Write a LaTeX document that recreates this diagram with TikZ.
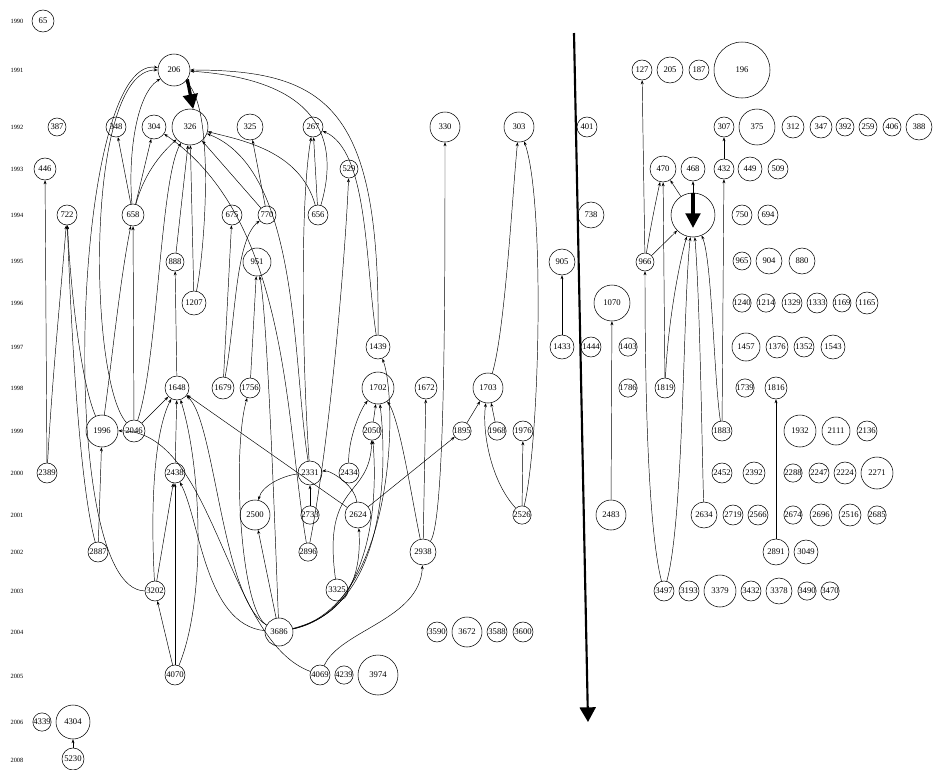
\documentclass[tikz,border=0pt]{standalone}
\usepackage{fontspec}
\setmainfont{Liberation Serif}
\usetikzlibrary{arrows.meta}

\begin{document}
\begin{tikzpicture}[x=0.75pt, y=-0.75pt,
    cit/.style={circle, draw, line width=0.4pt, inner sep=0pt, minimum size=1.5pt*#1, font=\fontsize{6.5}{7}\selectfont},
    yearlbl/.style={font=\fontsize{4.8}{5}\selectfont, inner sep=0pt},
    cite/.style={-{Stealth[length=3pt,width=2.2pt]}, line width=0.35pt},
    heavy/.style={-{Triangle[length=11pt,width=11pt]}, line width=2.4pt},
    timeline/.style={-{Triangle[length=11pt,width=12pt]}, line width=1.6pt}]
    \useasboundingbox (0,0) rectangle (933,769);

    % Years
    \foreach \yr/\yy in {1990/21, 1991/70, 1992/127, 1993/169, 1994/215, 1995/261, 1996/303,
        1997/347, 1998/388, 1999/431, 2000/473, 2001/515, 2002/552, 2003/591, 2004/632,
        2005/676, 2006/722, 2008/760}
        \node[yearlbl] (y\yr) at (17,\yy) {\yr};

    % Papers, row by row
    \node[cit=11] (n65) at (43,21) {65};

    \node[cit=16] (n206) at (174,70) {206};
    \node[cit=10] (n127) at (642,70) {127};
    \node[cit=13] (n205) at (670,70) {205};
    \node[cit=10] (n187) at (699,70) {187};
    \node[cit=28] (n196) at (742,70) {196};

    \node[cit=9] (n387) at (57,127) {387};
    \node[cit=10] (n348) at (116,127) {348};
    \node[cit=12] (n304) at (154,127) {304};
    \node[cit=18] (n326) at (190,127) {326};
    \node[cit=13] (n325) at (250,127) {325};
    \node[cit=10] (n267) at (313,127) {267};
    \node[cit=15] (n330) at (445,127) {330};
    \node[cit=15] (n303) at (519,127) {303};
    \node[cit=10] (n401) at (587,127) {401};
    \node[cit=10] (n307) at (724,127) {307};
    \node[cit=18] (n375) at (757,127) {375};
    \node[cit=11] (n312) at (793,127) {312};
    \node[cit=11] (n347) at (821,127) {347};
    \node[cit=9] (n392) at (845,127) {392};
    \node[cit=9] (n259) at (868,127) {259};
    \node[cit=9] (n406) at (892,127) {406};
    \node[cit=13] (n388) at (919,127) {388};

    \node[cit=11] (n446) at (45,169) {446};
    \node[cit=9] (n529) at (349,169) {529};
    \node[cit=13] (n470) at (663,169) {470};
    \node[cit=12] (n468) at (693,169) {468};
    \node[cit=10] (n432) at (724,169) {432};
    \node[cit=12] (n449) at (750,169) {449};
    \node[cit=10] (n509) at (778,169) {509};

    \node[cit=10] (n722) at (67,215) {722};
    \node[cit=11] (n658) at (133,215) {658};
    \node[cit=10] (n675) at (232,215) {675};
    \node[cit=9] (n770) at (267,215) {770};
    \node[cit=10] (n656) at (318,215) {656};
    \node[cit=13] (n738) at (591,215) {738};
    \node[cit=22] (hub) at (693,215) {};
    \node[cit=10] (n750) at (742,215) {750};
    \node[cit=10] (n694) at (768,215) {694};

    \node[cit=9] (n888) at (175,262) {888};
    \node[cit=14] (n951) at (257,262) {951};
    \node[cit=13] (n905) at (562,262) {905};
    \node[cit=9] (n966) at (645,262) {966};
    \node[cit=9] (n965) at (742,261) {965};
    \node[cit=13] (n904) at (769,261) {904};
    \node[cit=13] (n880) at (802,261) {880};

    \node[cit=12] (n1207) at (194,303) {1207};
    \node[cit=18] (n1070) at (612,303) {1070};
    \node[cit=9] (n1240) at (742,303) {1240};
    \node[cit=9] (n1214) at (766,303) {1214};
    \node[cit=10] (n1329) at (792,303) {1329};
    \node[cit=10] (n1333) at (817,303) {1333};
    \node[cit=9] (n1169) at (842,303) {1169};
    \node[cit=11] (n1165) at (867,303) {1165};

    \node[cit=12] (n1439) at (378,347) {1439};
    \node[cit=12] (n1433) at (562,347) {1433};
    \node[cit=10] (n1444) at (591,347) {1444};
    \node[cit=9] (n1403) at (628,347) {1403};
    \node[cit=14] (n1457) at (746,347) {1457};
    \node[cit=11] (n1376) at (777,347) {1376};
    \node[cit=10] (n1352) at (804,347) {1352};
    \node[cit=12] (n1543) at (833,347) {1543};

    \node[cit=12] (n1648) at (177,388) {1648};
    \node[cit=11] (n1679) at (223,388) {1679};
    \node[cit=10] (n1756) at (250,388) {1756};
    \node[cit=16] (n1702) at (378,388) {1702};
    \node[cit=11] (n1672) at (426,388) {1672};
    \node[cit=15] (n1703) at (488,388) {1703};
    \node[cit=9] (n1786) at (628,388) {1786};
    \node[cit=10] (n1819) at (665,388) {1819};
    \node[cit=9] (n1739) at (745,388) {1739};
    \node[cit=11] (n1816) at (776,388) {1816};

    \node[cit=16] (n1996) at (102,431) {1996};
    \node[cit=11] (n2046) at (134,431) {2046};
    \node[cit=9] (n2050) at (372,431) {2050};
    \node[cit=9] (n1895) at (462,431) {1895};
    \node[cit=9] (n1968) at (497,431) {1968};
    \node[cit=10] (n1976) at (523,431) {1976};
    \node[cit=10] (n1883) at (722,431) {1883};
    \node[cit=16] (n1932) at (800,431) {1932};
    \node[cit=14] (n2111) at (836,431) {2111};
    \node[cit=10] (n2136) at (867,431) {2136};

    \node[cit=10] (n2389) at (47,473) {2389};
    \node[cit=10] (n2438) at (175,473) {2438};
    \node[cit=12] (n2331) at (310,473) {2331};
    \node[cit=10] (n2434) at (349,473) {2434};
    \node[cit=10] (n2452) at (722,473) {2452};
    \node[cit=11] (n2392) at (754,473) {2392};
    \node[cit=9] (n2288) at (793,473) {2288};
    \node[cit=10] (n2247) at (819,473) {2247};
    \node[cit=11] (n2224) at (845,473) {2224};
    \node[cit=16] (n2271) at (877,473) {2271};

    \node[cit=15] (n2500) at (255,515) {2500};
    \node[cit=8] (n2733) at (310,515) {2733};
    \node[cit=13] (n2624) at (358,515) {2624};
    \node[cit=9] (n2526) at (522,515) {2526};
    \node[cit=15] (n2483) at (611,515) {2483};
    \node[cit=13] (n2634) at (704,515) {2634};
    \node[cit=10] (n2719) at (733,515) {2719};
    \node[cit=10] (n2566) at (758,515) {2566};
    \node[cit=9] (n2674) at (793,515) {2674};
    \node[cit=11] (n2696) at (821,515) {2696};
    \node[cit=11] (n2516) at (850,515) {2516};
    \node[cit=9] (n2685) at (877,515) {2685};

    \node[cit=10] (n2887) at (98,552) {2887};
    \node[cit=9] (n2896) at (308,552) {2896};
    \node[cit=13] (n2938) at (423,552) {2938};
    \node[cit=13] (n2891) at (776,552) {2891};
    \node[cit=12] (n3049) at (806,552) {3049};

    \node[cit=10] (n3202) at (155,591) {3202};
    \node[cit=11] (n3325) at (337,590) {3325};
    \node[cit=10] (n3497) at (664,591) {3497};
    \node[cit=10] (n3193) at (689,591) {3193};
    \node[cit=16] (n3379) at (720,591) {3379};
    \node[cit=10] (n3432) at (751,591) {3432};
    \node[cit=13] (n3378) at (779,591) {3378};
    \node[cit=9] (n3490) at (807,591) {3490};
    \node[cit=9] (n3470) at (830,591) {3470};

    \node[cit=14] (n3686) at (279,632) {3686};
    \node[cit=10] (n3590) at (437,632) {3590};
    \node[cit=15] (n3672) at (467,632) {3672};
    \node[cit=10] (n3588) at (497,632) {3588};
    \node[cit=10] (n3600) at (523,632) {3600};

    \node[cit=10] (n4070) at (175,675) {4070};
    \node[cit=10] (n4069) at (320,675) {4069};
    \node[cit=9] (n4239) at (344,675) {4239};
    \node[cit=20] (n3974) at (378,675) {3974};

    \node[cit=9] (n4339) at (42,722) {4339};
    \node[cit=17] (n4304) at (73,722) {4304};
    \node[cit=11] (n5230) at (73,759) {5230};

    % Citations, left group
    \draw[cite] (n658) .. controls (128,160) and (135,95) .. (n206);
    \draw[cite] (n658) -- (n348);
    \draw[cite] (n658) -- (n304);
    \draw[cite] (n658) .. controls (145,170) and (165,150) .. (n326);
    \draw[cite] (n2046) -- (n658);
    \draw[cite] (n1996) .. controls (112,360) and (120,280) .. (n658);
    \draw[cite] (n1996) .. controls (80,380) and (70,280) .. (n722);
    \draw[cite] (n2389) .. controls (52,380) and (62,280) .. (n722);
    \draw[cite] (n2389) -- (n446);
    \draw[cite] (n2887) .. controls (78,480) and (70,300) .. (n722);
    \draw[cite] (n2887) -- (n1996);
    \draw[cite] (n2046) .. controls (88,380) and (85,70) .. (n206);
    \draw[cite] (n3202) .. controls (55,590) and (72,55) .. (n206);
    \draw[cite] (n1207) -- (n326);
    \draw[cite] (n1207) .. controls (205,250) and (215,110) .. (n206);
    \draw[cite] (n888) -- (n326);
    \draw[cite] (n1648) -- (n888);
    \draw[cite] (n2046) .. controls (158,360) and (160,180) .. (n326);
    \draw[cite] (n2046) -- (n1648);
    \draw[cite] (n2438) -- (n1648);
    \draw[cite] (n3202) .. controls (150,500) and (155,430) .. (n1648);
    \draw[cite] (n3202) -- (n2438);
    \draw[cite] (n4070) -- (n3202);
    \draw[cite] (n4070) -- (n2438);
    \draw[cite] (n4070) .. controls (206,600) and (202,470) .. (n1648);
    \draw[cite] (n3686) .. controls (205,625) and (200,520) .. (n2438);
    \draw[cite] (n3686) .. controls (222,600) and (215,420) .. (n1648);
    \draw[cite] (n2624) -- (n1648);
    \draw[cite] (n4069) .. controls (225,640) and (215,430) .. (n1996);
    \draw[cite] (n1679) -- (n675);
    \draw[cite] (n1679) .. controls (236,320) and (235,240) .. (n770);
    \draw[cite] (n770) -- (n326);
    \draw[cite] (n770) -- (n325);
    \draw[cite] (n1756) -- (n951);
    \draw[cite] (n3686) .. controls (276,560) and (268,320) .. (n951);
    \draw[cite] (n3686) .. controls (240,610) and (232,450) .. (n1756);
    \draw[cite] (n3686) -- (n2500);
    \draw[cite] (n2896) .. controls (285,420) and (290,220) .. (n304);
    \draw[cite] (n2896) .. controls (330,440) and (345,260) .. (n529);
    \draw[cite] (n2331) .. controls (292,360) and (300,170) .. (n326);
    \draw[cite] (n2331) .. controls (302,360) and (300,200) .. (n267);
    \draw[cite] (n2733) -- (n2331);
    \draw[cite] (n2331) .. controls (285,475) and (262,485) .. (n2500);
    \draw[cite] (n2624) .. controls (355,485) and (330,470) .. (n2331);
    \draw[cite] (n2624) -- (n1895);
    \draw[cite] (n3686) .. controls (345,615) and (362,580) .. (n2624);
    \draw[cite] (n3686) .. controls (372,612) and (378,500) .. (n2050);
    \draw[cite] (n3686) .. controls (385,608) and (388,470) .. (n1702);
    \draw[cite] (n3686) .. controls (396,605) and (398,400) .. (n1439);
    \draw[cite] (n3325) .. controls (322,480) and (370,500) .. (n2050);
    \draw[cite] (n2434) .. controls (348,440) and (360,410) .. (n1702);
    \draw[cite] (n2050) -- (n1702);
    \draw[cite] (n2938) .. controls (412,500) and (400,420) .. (n1702);
    \draw[cite] (n2938) -- (n1672);
    \draw[cite] (n2938) .. controls (445,520) and (445,300) .. (n330);
    \draw[cite] (n4069) .. controls (340,630) and (420,620) .. (n2938);
    \draw[cite] (n1439) .. controls (365,260) and (368,150) .. (n267);
    \draw[cite] (n1439) .. controls (380,110) and (330,70) .. (n206);
    \draw[cite] (n656) .. controls (340,140) and (320,80) .. (n206);
    \draw[cite] (n656) -- (n267);
    \draw[cite] (n656) .. controls (300,150) and (240,140) .. (n326);

    % Citations, middle group
    \draw[cite] (n1703) .. controls (505,330) and (512,200) .. (n303);
    \draw[cite] (n2526) .. controls (540,440) and (545,200) .. (n303);
    \draw[cite] (n2526) .. controls (490,480) and (482,430) .. (n1703);
    \draw[cite] (n2526) -- (n1976);
    \draw[cite] (n1895) -- (n1703);
    \draw[cite] (n1968) -- (n1703);
    \draw[cite] (n1433) -- (n905);
    \draw[cite] (n2483) -- (n1070);

    % Citations, right group
    \draw[cite] (n432) -- (n307);
    \draw[cite] (n1883) -- (n432);
    \draw[cite] (n1883) .. controls (714,380) and (712,260) .. (hub);
    \draw[cite] (n2634) .. controls (702,450) and (700,300) .. (hub);
    \draw[cite] (n3497) .. controls (684,520) and (683,300) .. (hub);
    \draw[cite] (n3497) .. controls (646,520) and (645,350) .. (n966);
    \draw[cite] (n1819) -- (n470);
    \draw[cite] (n1819) .. controls (668,320) and (680,260) .. (hub);
    \draw[cite] (n966) .. controls (650,230) and (656,200) .. (n470);
    \draw[cite] (n966) -- (hub);
    \draw[cite] (n966) -- (n127);
    \draw[cite] (hub) -- (n470);
    \draw[cite] (hub) -- (n468);
    \draw[cite] (n2891) -- (n1816);
    \draw[cite] (n5230) -- (n4304);

    % Heavy arrows and time axis
    \draw[heavy] (n206.-35) -- (n326.80);
    \draw[heavy, shorten >=7pt] (hub.north) -- (hub.south);
    \coordinate (tstart) at (574,33);
    \coordinate (tend) at (588,722);
    \draw[timeline] (tstart) -- (tend);
\end{tikzpicture}
\end{document}
